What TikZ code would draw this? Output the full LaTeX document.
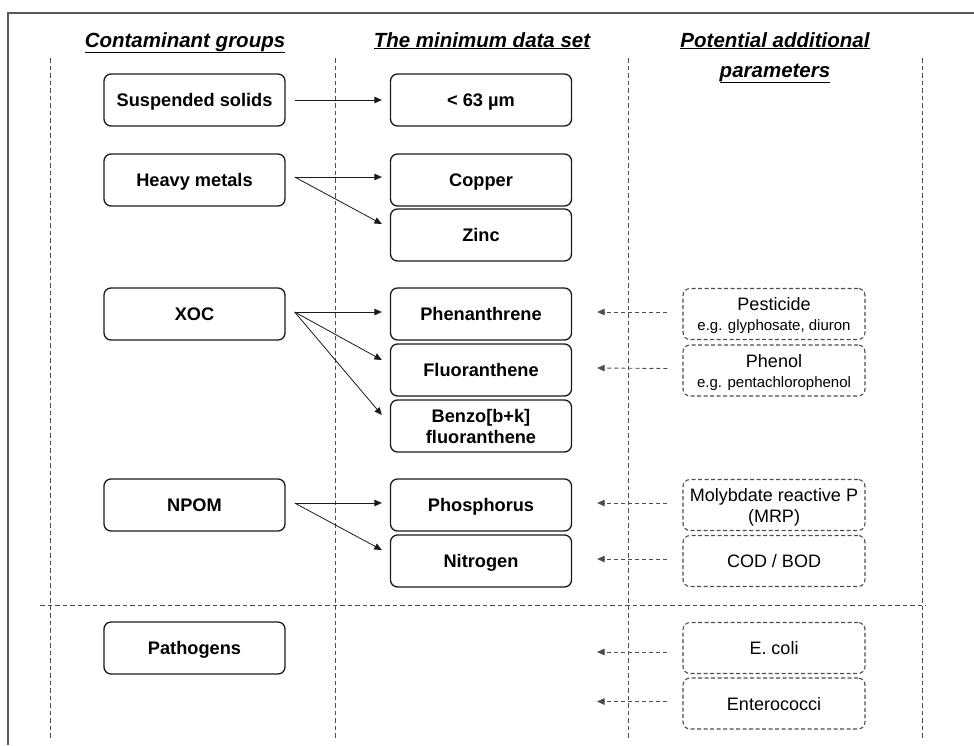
\documentclass[tikz,border=0pt]{standalone}
\usepackage{fontspec}
\setmainfont{Liberation Sans}
\usetikzlibrary{arrows.meta}
\definecolor{ink}{HTML}{1A1A1A}
\definecolor{inkmute}{HTML}{4D4D4D}
\definecolor{framec}{HTML}{5A5A5A}

\begin{document}
\begin{tikzpicture}[
  x=1pt, y=-1pt,
  every node/.style={font=\fontsize{18}{21}\selectfont},
  grpbox/.style={
    rectangle, rounded corners=7pt,
    draw=ink, line width=1.3pt,
    minimum width=181pt, minimum height=52pt, inner sep=2pt, text depth=0pt,
    align=center, font=\fontsize{18.2}{21}\selectfont\bfseries
  },
  addbox/.style={
    rectangle, rounded corners=7pt,
    draw=inkmute, line width=1.1pt, dash pattern=on 4pt off 2.5pt,
    minimum width=182pt, minimum height=51pt, inner sep=2pt, text depth=0pt, align=center
  },
  head/.style={anchor=base, align=center, font=\fontsize{20.5}{30}\selectfont\bfseries\itshape},
  arr/.style={-{Triangle[length=7.5pt,width=6.5pt]}, line width=0.8pt, draw=ink},
  dasharr/.style={-{Triangle[length=7.5pt,width=6.5pt]}, line width=0.9pt, draw=inkmute, dash pattern=on 4pt off 3pt},
  sepline/.style={draw=inkmute, line width=0.9pt, dash pattern=on 4.5pt off 3pt}
]
\useasboundingbox (0,0) rectangle (974,745);

% --- FRAME AND COLUMN SEPARATORS ---
\draw[framec, line width=1.3pt] (974,13) -- (8,13) -- (8,745);
\foreach \xx in {50,335,628,922} {
  \draw[sepline] (\xx,58) -- (\xx,738);
}
\draw[sepline] (40,605) -- (926,605);

% --- HEADERS ---
\node[head] (hgroups) at (185,47) {\underline{Contaminant groups}};
\node[head] (hmds) at (482,47) {\underline{The minimum data set}};
\node[head] (hextra) at (775,77) {\underline{Potential additional}\\\underline{parameters}};

% --- CONTAMINANT GROUPS ---
\node[grpbox] (susp) at (194.5,100) {Suspended solids};
\node[grpbox] (metals) at (194.5,180) {Heavy metals};
\node[grpbox] (xoc) at (194.5,314) {XOC};
\node[grpbox] (npom) at (194.5,505) {NPOM};
\node[grpbox] (patho) at (194.5,648) {Pathogens};

% --- MINIMUM DATA SET ---
\node[grpbox] (fine) at (481,100) {< 63 µm};
\node[grpbox] (copper) at (481,180) {Copper};
\node[grpbox] (zinc) at (481,235) {Zinc};
\node[grpbox] (phen) at (481,314) {Phenanthrene};
\node[grpbox] (fluor) at (481,370) {Fluoranthene};
\node[grpbox] (benzo) at (481,426) {Benzo[b+k]\\fluoranthene};
\node[grpbox] (phos) at (481,505) {Phosphorus};
\node[grpbox] (nitro) at (481,561) {Nitrogen};

% --- ADDITIONAL PARAMETERS ---
\node[addbox] (pest) at (774,314) {Pesticide\\[-1pt]{\fontsize{15}{18}\selectfont e.g. glyphosate, diuron}};
\node[addbox] (phenol) at (774,370.5) {Phenol\\[-1pt]{\fontsize{15}{18}\selectfont e.g. pentachlorophenol}};
\node[addbox] (mrp) at (774,505) {Molybdate reactive P\\(MRP)};
\node[addbox] (cod) at (774,561) {COD / BOD};
\node[addbox] (ecoli) at (774,648) {E. coli};
\node[addbox] (entero) at (774,703.5) {Enterococci};

\coordinate (ecolitip) at (597,652);
\coordinate (enterotip) at (597,701.5);

% --- LINKS ---
\draw[arr] ([xshift=9pt]susp.east) -- ([xshift=-8pt]fine.west);
\draw[arr] ([xshift=9pt,yshift=3pt]metals.east) -- ([xshift=-8pt,yshift=3pt]copper.west);
\draw[arr] ([xshift=9pt,yshift=3pt]metals.east) -- ([xshift=-8pt,yshift=11pt]zinc.west);
\draw[arr] ([xshift=9pt,yshift=2pt]xoc.east) -- ([xshift=-8pt,yshift=2pt]phen.west);
\draw[arr] ([xshift=9pt,yshift=2pt]xoc.east) -- ([xshift=-8pt,yshift=10pt]fluor.west);
\draw[arr] ([xshift=9pt,yshift=2pt]xoc.east) -- ([xshift=-8pt,yshift=11pt]benzo.west);
\draw[arr] ([xshift=9pt,yshift=2pt]npom.east) -- ([xshift=-8pt,yshift=2pt]phos.west);
\draw[arr] ([xshift=9pt,yshift=2pt]npom.east) -- ([xshift=-8pt,yshift=11pt]nitro.west);

\draw[dasharr] ([xshift=-15pt,yshift=2pt]pest.west) -- ([xshift=25pt,yshift=2pt]phen.east);
\draw[dasharr] ([xshift=-15pt,yshift=2pt]phenol.west) -- ([xshift=25pt,yshift=2pt]fluor.east);
\draw[dasharr] ([xshift=-15pt,yshift=2pt]mrp.west) -- ([xshift=25pt,yshift=2pt]phos.east);
\draw[dasharr] ([xshift=-15pt,yshift=2pt]cod.west) -- ([xshift=25pt,yshift=2pt]nitro.east);
\draw[dasharr] ([xshift=-15pt,yshift=-4pt]ecoli.west) -- (ecolitip);
\draw[dasharr] ([xshift=-15pt,yshift=2pt]entero.west) -- (enterotip);

\end{tikzpicture}
\end{document}
